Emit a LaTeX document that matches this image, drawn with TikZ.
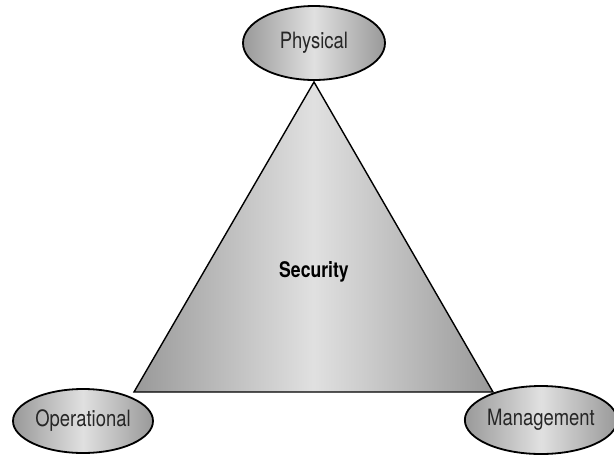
\documentclass[tikz,border=0pt]{standalone}
\usepackage{fontspec}
\setmainfont{TeX Gyre Heros}[FakeStretch=0.82]
\usetikzlibrary{shapes.geometric}
\definecolor{edgegray}{gray}{0.6}
\definecolor{midgray}{gray}{0.88}

\begin{document}
\begin{tikzpicture}[x=1pt, y=-1pt,
  corner/.style = {draw, ellipse, line width=1.8pt, inner sep=0pt,
    left color=edgegray, right color=edgegray, middle color=midgray,
    font=\fontsize{22.5}{26}\selectfont, text=black!85}]
\useasboundingbox (0,0) rectangle (614,456);

%% triangle
\coordinate (top) at (314, 82);
\coordinate (bl) at (134, 392);
\coordinate (br) at (493, 392);
\draw[line width=1.4pt, left color=edgegray, right color=edgegray, middle color=midgray]
  (top) -- (br) -- (bl) -- cycle;
\node (sec) at (314, 272) {\fontsize{21.5}{24}\selectfont\bfseries Security};

%% corners
\node[corner, minimum width=142, minimum height=74] (phys) at (314, 43) {Physical};
\node[corner, minimum width=140, minimum height=64] (oper) at (83, 421) {Operational};
\node[corner, minimum width=130, minimum height=68] (mgmt) at (541, 420) {Management};

\end{tikzpicture}
\end{document}
